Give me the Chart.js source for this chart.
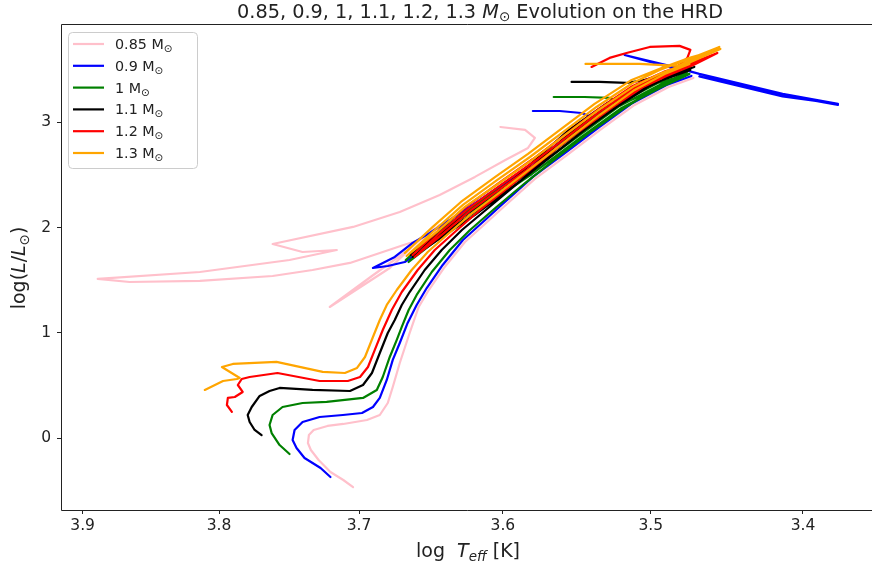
<!DOCTYPE html>
<html>
<head>
<meta charset="utf-8">
<title>HRD tracks</title>
<script src="https://cdn.jsdelivr.net/npm/chart.js@4.4.0/dist/chart.umd.min.js"></script>
<style>
  html, body { margin: 0; padding: 0; background: #fff; }
  #wrap { width: 872px; height: 569px; }
</style>
</head>
<body>
<div id="wrap"><canvas id="hrd" width="872" height="569"></canvas></div>
<script>
// log Teff / log L tracks, null = gap in the track
const teff085 = [3.7042, 3.7111, 3.7202, 3.7286, 3.7341, 3.7362, 3.7355, 3.7321, 3.7223, 3.7111, 3.6944, 3.6854, 3.6798, 3.6763, 3.6714, 3.6645, 3.6582, 3.6512, 3.6401, 3.6261, 3.6108, 3.6003, 3.5781, 3.5552, 3.5330, 3.5108, 3.4882, 3.4717, null,
  3.6017, 3.5848, 3.5781, 3.5828, 3.5983, 3.6192, 3.6436, 3.6714, 3.7042, 3.7614, 3.7400, 3.7157, 3.7493, 3.8139, 3.8888, 3.8653, 3.8139, 3.7614, 3.7329, 3.7064, 3.6833, 3.6666, 3.6575, 3.6784, 3.7207, 3.6909, 3.6714, 3.6436];
const lum085 = [-0.463, -0.396, -0.320, -0.206, -0.111, -0.045, 0.031, 0.079, 0.117, 0.136, 0.174, 0.221, 0.335, 0.487, 0.715, 1.000, 1.247, 1.408, 1.627, 1.864, 2.054, 2.187, 2.463, 2.700, 2.937, 3.165, 3.336, 3.422, null,
  2.956, 2.928, 2.852, 2.757, 2.643, 2.482, 2.311, 2.149, 2.007, 1.845, 1.769, 1.788, 1.693, 1.579, 1.513, 1.484, 1.494, 1.541, 1.598, 1.665, 1.769, 1.845, 1.883, 1.617, 1.247, 1.541, 1.731, 2.026];

const teff09 = [3.7202, 3.7272, 3.7386, 3.7443, 3.7471, 3.7457, 3.7400, 3.7279, 3.7114, 3.6979, 3.6902, 3.6854, 3.6805, 3.6763, 3.6714, 3.6659, 3.6596, 3.6526, 3.6415, 3.6275, 3.6122, 3.6017, 3.5795, 3.5566, 3.5343, 3.5121, 3.4895, 3.4730, null,
  3.5795, 3.5613, 3.5465, 3.5377, 3.5613, 3.5882, 3.6157, 3.6366, 3.6505, 3.6624, 3.6749, 3.6902, 3.6798, 3.6679, 3.6596, 3.6540, 3.6366, 3.6087, 3.5815, 3.5545, 3.5276, 3.5007, 3.4809, 3.5175, 3.4875, 3.4678, 3.4132, 3.3774, 3.4132, 3.4678, 3.4132, 3.3774];
const lum09 = [-0.368, -0.282, -0.187, -0.092, -0.016, 0.079, 0.155, 0.202, 0.221, 0.240, 0.297, 0.383, 0.554, 0.744, 0.905, 1.095, 1.266, 1.427, 1.646, 1.883, 2.073, 2.206, 2.482, 2.719, 2.956, 3.184, 3.355, 3.441, null,
  3.108, 3.108, 3.089, 3.042, 2.804, 2.529, 2.263, 2.073, 1.950, 1.855, 1.722, 1.617, 1.636, 1.674, 1.750, 1.836, 2.026, 2.311, 2.595, 2.880, 3.137, 3.384, 3.498, 3.640, 3.536, 3.460, 3.270, 3.175, 3.246, 3.436, 3.260, 3.166];

const teff10 = [3.7493, 3.7564, 3.7621, 3.7636, 3.7614, 3.7543, 3.7400, 3.7229, 3.6972, 3.6875, 3.6833, 3.6784, 3.6735, 3.6700, 3.6652, 3.6596, 3.6491, 3.6366, 3.6226, 3.6052, 3.5848, 3.5626, 3.5397, 3.5175, 3.4961, 3.4776, null,
  3.5653, 3.5444, 3.5276, 3.5195, 3.4928, 3.4757, 3.4941, 3.5209, 3.5478, 3.5815, 3.6226, 3.6505, 3.6652, 3.6491, 3.6213, 3.5801, 3.5465, 3.5195, 3.4928, 3.4743, 3.4954, 3.5222, 3.5492, 3.5828, 3.6240, 3.6519, 3.6672];
const lum10 = [-0.149, -0.064, 0.050, 0.126, 0.221, 0.297, 0.335, 0.345, 0.383, 0.459, 0.582, 0.772, 0.934, 1.057, 1.218, 1.361, 1.579, 1.788, 1.978, 2.187, 2.424, 2.671, 2.918, 3.137, 3.327, 3.450, null,
  3.241, 3.241, 3.232, 3.175, 3.336, 3.479, 3.355, 3.156, 2.880, 2.529, 2.149, 1.864, 1.674, 1.845, 2.130, 2.510, 2.861, 3.137, 3.336, 3.460, 3.374, 3.175, 2.899, 2.548, 2.168, 1.883, 1.693];

const teff11 = [3.7693, 3.7743, 3.7779, 3.7793, 3.7764, 3.7707, 3.7636, 3.7564, 3.7329, 3.7064, 3.6972, 3.6909, 3.6854, 3.6798, 3.6749, 3.6700, 3.6645, 3.6540, 3.6422, 3.6282, 3.6101, 3.5896, 3.5667, 3.5444, 3.5229, 3.5007, 3.4809, 3.4711, null,
  3.5532, 3.5343, 3.5162, 3.5040, 3.4743, 3.5007, 3.5276, 3.5545, 3.5902, 3.6206, 3.6624, 3.6192, 3.5889, 3.5532, 3.5263, 3.4993, 3.4737, 3.5020, 3.5290, 3.5559, 3.5916, 3.6220, 3.6638];
const lum11 = [0.031, 0.079, 0.155, 0.221, 0.297, 0.402, 0.449, 0.478, 0.459, 0.449, 0.506, 0.620, 0.810, 1.000, 1.123, 1.266, 1.389, 1.598, 1.788, 1.978, 2.187, 2.424, 2.681, 2.928, 3.146, 3.346, 3.479, 3.526, null,
  3.384, 3.384, 3.374, 3.403, 3.517, 3.384, 3.165, 2.899, 2.453, 2.140, 1.722, 2.121, 2.434, 2.880, 3.146, 3.365, 3.498, 3.403, 3.184, 2.918, 2.472, 2.159, 1.741];

const teff12 = [3.7907, 3.7943, 3.7936, 3.7886, 3.7829, 3.7864, 3.7836, 3.7779, 3.7579, 3.7279, 3.7079, 3.6993, 3.6937, 3.6889, 3.6833, 3.6770, 3.6700, 3.6589, 3.6470, 3.6331, 3.6157, 3.5949, 3.5714, 3.5478, 3.5263, 3.5040, 3.4842, 3.4678, null,
  3.5397, 3.5276, 3.5162, 3.5007, 3.4809, 3.4737, 3.4757, 3.4809, 3.4908, 3.5108, 3.5343, 3.5545, 3.5781, 3.6003, 3.6240, 3.6436, 3.6610, 3.6422, 3.6226, 3.5990, 3.5768, 3.5532, 3.5330, 3.5094, 3.4895, 3.4717, 3.4559, 3.4730, 3.4914, 3.5121, 3.5357, 3.5559, 3.5795, 3.6017, 3.6254, 3.6449, 3.6624];
const lum12 = [0.250, 0.316, 0.383, 0.392, 0.440, 0.506, 0.563, 0.582, 0.620, 0.544, 0.544, 0.582, 0.677, 0.839, 1.028, 1.218, 1.389, 1.598, 1.788, 1.959, 2.168, 2.396, 2.662, 2.918, 3.137, 3.346, 3.488, 3.593, null,
  3.526, 3.612, 3.659, 3.716, 3.726, 3.688, 3.612, 3.545, 3.460, 3.327, 3.099, 2.880, 2.633, 2.415, 2.178, 1.950, 1.722, 1.931, 2.159, 2.396, 2.614, 2.861, 3.080, 3.308, 3.441, 3.545, 3.659, 3.564, 3.479, 3.346, 3.118, 2.899, 2.652, 2.434, 2.197, 1.969, 1.741];

const teff13 = [3.8103, 3.7971, 3.7871, 3.7850, 3.7979, 3.7900, 3.7586, 3.7257, 3.7100, 3.7014, 3.6958, 3.6902, 3.6854, 3.6805, 3.6735, 3.6631, 3.6519, 3.6401, 3.6226, 3.6017, 3.5781, 3.5545, 3.5343, 3.5108, 3.4908, 3.4743, null,
  3.5438, 3.5074, 3.4822, 3.4678, 3.4546, 3.4763, 3.4941, 3.5121, 3.5364, 3.5579, 3.5815, 3.6038, 3.6275, 3.6470, 3.6666, 3.6456, 3.6261, 3.6024, 3.5801, 3.5566, 3.5350, 3.5108, 3.4928, 3.4750, 3.4539, 3.4743, 3.4928, 3.5128, 3.5377, 3.5593, 3.5828, 3.6052, 3.6289, 3.6484, 3.6679];
const lum13 = [0.459, 0.544, 0.563, 0.573, 0.677, 0.706, 0.725, 0.630, 0.620, 0.668, 0.772, 0.962, 1.123, 1.266, 1.408, 1.598, 1.769, 1.912, 2.121, 2.339, 2.595, 2.852, 3.070, 3.308, 3.460, 3.555, null,
  3.555, 3.555, 3.536, 3.621, 3.716, 3.593, 3.498, 3.374, 3.146, 2.918, 2.671, 2.453, 2.216, 1.978, 1.731, 1.959, 2.197, 2.424, 2.643, 2.890, 3.118, 3.346, 3.469, 3.564, 3.697, 3.612, 3.517, 3.403, 3.175, 2.947, 2.700, 2.482, 2.244, 2.007, 1.760];

const masses = ['0.85', '0.9', '1', '1.1', '1.2', '1.3'];
const colors = ['pink', 'blue', 'green', 'black', 'red', 'orange'];
const xTicks = [3.4, 3.5, 3.6, 3.7, 3.8, 3.9];
const yTicks = [0, 1, 2, 3];

const teffs = [teff085, teff09, teff10, teff11, teff12, teff13];
const lums = [lum085, lum09, lum10, lum11, lum12, lum13];

const FONT = "'DejaVu Sans'";
const LW = 2.2;

// draw a row of text pieces with different fonts (for italics / subscripts)
function drawRuns(ctx, runs, x, y, align) {
  let total = 0;
  runs.forEach(r => { ctx.font = r.f; total += ctx.measureText(r.t).width; });
  let cx = align === 'center' ? x - total / 2 : x;
  ctx.textBaseline = 'alphabetic';
  ctx.textAlign = 'left';
  runs.forEach(r => {
    ctx.font = r.f;
    ctx.fillText(r.t, cx, y + (r.dy || 0));
    cx += ctx.measureText(r.t).width;
  });
}

const hrdDecor = {
  id: 'hrdDecor',
  afterDraw(chart) {
    const ctx = chart.ctx;
    const a = chart.chartArea;
    ctx.save();

    // frame
    ctx.strokeStyle = '#222';
    ctx.lineWidth = 1;
    ctx.beginPath();
    ctx.moveTo(a.right + 5, a.top + 0.5);
    ctx.lineTo(a.left + 0.5, a.top + 0.5);
    ctx.lineTo(a.left + 0.5, a.bottom + 0.5);
    ctx.lineTo(a.right + 5, a.bottom + 0.5);
    ctx.stroke();

    ctx.fillStyle = '#222';
    // title
    drawRuns(ctx, [
      { t: '0.85, 0.9, 1, 1.1, 1.2, 1.3 ', f: `19.3px ${FONT}` },
      { t: 'M', f: `italic 19.3px ${FONT}` },
      { t: '\u2299', f: `13.5px ${FONT}`, dy: 3 },
      { t: ' Evolution on the HRD', f: `19.3px ${FONT}` }
    ], 480, 18, 'center');

    // x axis label
    drawRuns(ctx, [
      { t: 'log  ', f: `19px ${FONT}` },
      { t: 'T', f: `italic 19px ${FONT}` },
      { t: 'eff', f: `italic 13.5px ${FONT}`, dy: 3.5 },
      { t: ' [K]', f: `19px ${FONT}` }
    ], 468, 557, 'center');

    // y axis label
    ctx.save();
    ctx.translate(25, 268);
    ctx.rotate(-Math.PI / 2);
    drawRuns(ctx, [
      { t: 'log(', f: `19px ${FONT}` },
      { t: 'L', f: `italic 19px ${FONT}` },
      { t: '/', f: `19px ${FONT}` },
      { t: 'L', f: `italic 19px ${FONT}` },
      { t: '\u2299', f: `13.5px ${FONT}`, dy: 3.5 },
      { t: ')', f: `19px ${FONT}` }
    ], 0, 0, 'center');
    ctx.restore();

    // legend
    const bx = 68.5, by = 32.5, bw = 129, bh = 136, r = 4;
    ctx.fillStyle = 'rgba(255,255,255,0.8)';
    ctx.strokeStyle = '#cccccc';
    ctx.lineWidth = 1;
    ctx.beginPath();
    ctx.roundRect(bx, by, bw, bh, r);
    ctx.fill();
    ctx.stroke();
    masses.forEach((m, i) => {
      const ry = 44 + i * 21.8;
      ctx.strokeStyle = colors[i];
      ctx.lineWidth = LW;
      ctx.beginPath();
      ctx.moveTo(73, ry);
      ctx.lineTo(104, ry);
      ctx.stroke();
      ctx.fillStyle = '#222';
      drawRuns(ctx, [
        { t: m + ' M', f: `14.3px ${FONT}` },
        { t: '\u2299', f: `10.5px ${FONT}`, dy: 3 }
      ], 115, ry + 5, 'left');
    });
    ctx.restore();
  }
};

const datasets = teffs.map((xs, i) => ({
  label: masses[i] + ' M\u2299',
  data: xs.map((x, j) => ({ x: x, y: lums[i][j] })),
  borderColor: colors[i],
  borderWidth: LW,
  borderJoinStyle: 'round',
  borderCapStyle: 'round',
  pointRadius: 0,
  fill: false,
  tension: 0,
  spanGaps: false,
  order: teffs.length - 1 - i
}));

new Chart(document.getElementById('hrd'), {
  type: 'line',
  data: { datasets: datasets },
  options: {
    responsive: false,
    animation: false,
    devicePixelRatio: 1,
    layout: { padding: { top: 24, right: 0, left: 0, bottom: 0 }, autoPadding: false },
    plugins: {
      legend: { display: false },
      title: { display: false },
      tooltip: { enabled: false }
    },
    scales: {
      x: {
        type: 'logarithmic',
        reverse: true,
        bounds: 'data',
        min: 3.3556,
        max: 3.9161,
        afterBuildTicks: s => { s.ticks = xTicks.map(v => ({ value: v })); },
        afterFit: s => { s.height = 59; },
        ticks: {
          autoSkip: false,
          maxRotation: 0,
          padding: 3,
          color: '#222',
          font: { family: 'DejaVu Sans', size: 15.5 },
          callback: v => Number(v).toFixed(1)
        },
        grid: { drawOnChartArea: false, drawTicks: true, tickLength: 4, color: '#222' },
        border: { display: false }
      },
      y: {
        type: 'linear',
        bounds: 'data',
        min: -0.681,
        max: 3.934,
        afterBuildTicks: s => { s.ticks = yTicks.map(v => ({ value: v })); },
        afterFit: s => { s.width = 61; },
        ticks: {
          padding: 6,
          color: '#222',
          font: { family: 'DejaVu Sans', size: 15.5 },
          callback: v => String(v)
        },
        grid: { drawOnChartArea: false, drawTicks: true, tickLength: 4, color: '#222' },
        border: { display: false }
      }
    }
  },
  plugins: [hrdDecor]
});
</script>
</body>
</html>
